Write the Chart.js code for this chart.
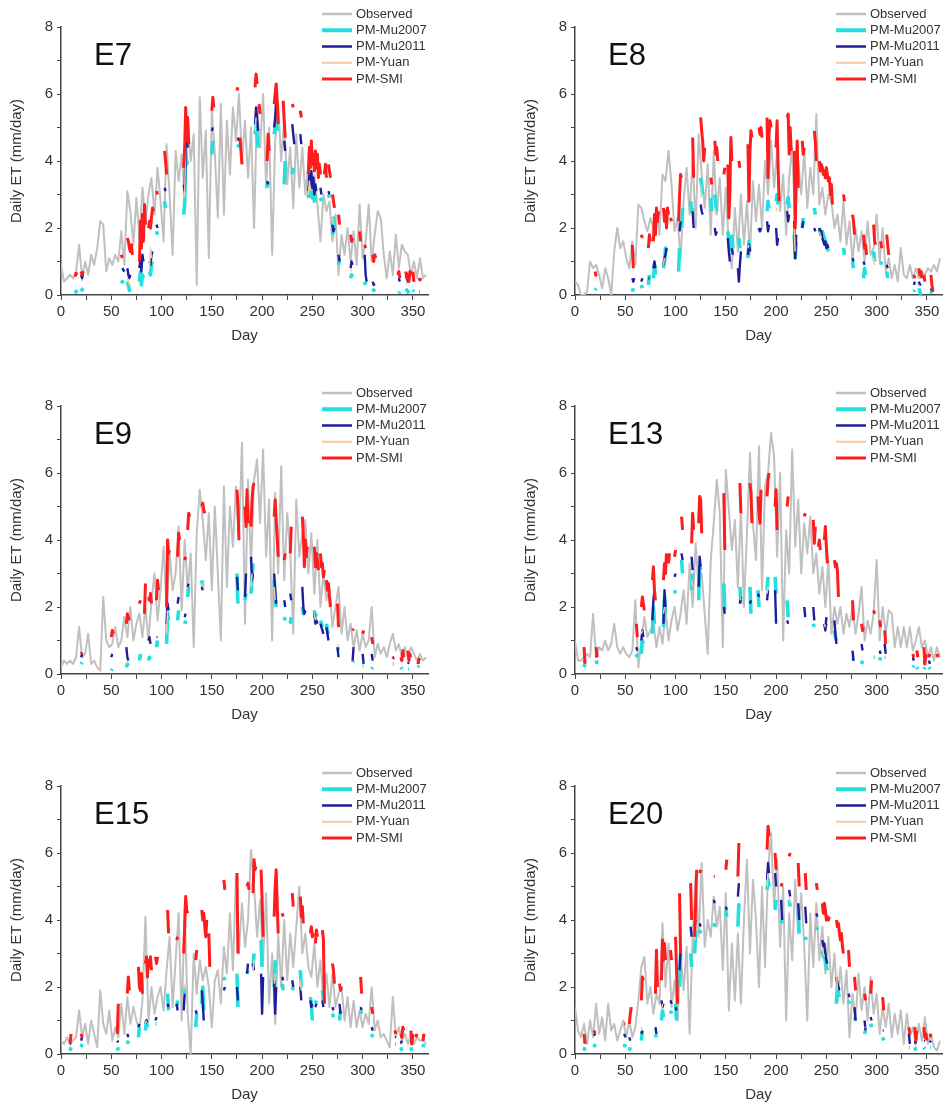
<!DOCTYPE html>
<html>
<head>
<meta charset="utf-8">
<script src="https://cdn.jsdelivr.net/npm/chart.js@4.4.1/dist/chart.umd.min.js"></script>
<style>
body{margin:0;background:#fff;width:946px;height:1108px;position:relative;overflow:hidden}
canvas{position:absolute}
</style>
</head>
<body>
<canvas id="c0" width="432" height="349" style="left:0;top:0"></canvas>
<canvas id="c1" width="432" height="349" style="left:514px;top:0"></canvas>
<canvas id="c2" width="432" height="349" style="left:0;top:379px"></canvas>
<canvas id="c3" width="432" height="349" style="left:514px;top:379px"></canvas>
<canvas id="c4" width="432" height="349" style="left:0;top:759px"></canvas>
<canvas id="c5" width="432" height="349" style="left:514px;top:759px"></canvas>
<script>
// observed ET sampled every 3rd day
var obsDays = [0,3,6,9,12,15,18,21,24,27,30,33,36,39,42,45,48,51,54,57,60,63,66,69,72,75,78,81,84,87,
  90,93,96,99,102,105,108,111,114,117,120,123,126,129,132,135,138,141,144,147,150,153,156,159,162,165,168,171,174,177,
  180,183,186,189,192,195,198,201,204,207,210,213,216,219,222,225,228,231,234,237,240,243,246,249,252,255,258,261,264,267,
  270,273,276,279,282,285,288,291,294,297,300,303,306,309,312,315,318,321,324,327,330,333,336,339,342,345,348,351,354,357,360,363];

var e7Obs = [0.9,0.4,0.5,0.6,0.5,0.7,1.5,0.5,1.0,0.6,
  1.2,0.9,1.4,2.2,2.1,0.7,1.1,0.9,1.2,1.0,
  1.9,0.9,3.1,2.5,1.5,2.9,1.7,3.2,2.2,3.0,
  3.5,2.4,3.8,2.8,1.6,4.5,3.0,1.2,4.3,3.4,
  4.2,3.0,5.3,4.0,4.8,0.3,5.9,3.5,4.9,1.1,
  5.5,4.2,2.3,5.7,2.4,5.2,3.6,5.6,4.6,6.0,
  4.0,5.2,3.5,5.0,2.0,5.6,4.4,6.0,3.2,5.0,
  1.2,4.6,5.7,4.0,5.2,3.3,4.4,2.6,4.8,3.2,
  4.4,3.0,3.9,2.9,3.6,2.7,1.6,3.0,2.5,2.8,
  1.6,2.4,0.6,1.8,1.2,2.0,1.0,1.9,0.9,2.7,
  1.1,1.6,2.7,1.0,1.8,2.5,2.3,1.2,0.5,1.3,
  0.6,1.8,0.8,1.5,1.3,1.2,0.6,1.0,0.5,1.1,
  0.5,0.6];
var e8Obs = [0.4,0.3,0.0,0.0,0.1,1.0,0.8,0.9,0.6,0.2,
  0.8,0.5,0.0,1.3,2.0,1.4,1.6,1.1,0.8,1.6,
  0.9,2.7,2.6,2.2,1.9,2.3,2.0,2.6,1.8,3.6,
  3.4,4.3,3.3,1.9,2.3,1.1,2.8,3.8,2.4,4.1,
  2.0,4.8,3.6,2.6,3.9,1.8,4.3,2.4,3.5,1.8,
  3.2,1.4,0.8,2.6,1.3,3.0,1.5,2.8,1.2,3.4,
  2.2,3.3,2.0,4.0,3.0,4.6,3.2,4.3,2.5,3.6,
  1.8,3.5,4.4,2.1,4.0,3.0,4.3,2.6,3.8,3.0,
  5.4,2.7,3.2,2.4,3.0,2.8,2.0,2.4,1.6,2.8,
  1.5,2.2,1.0,2.0,1.3,1.9,1.0,2.2,1.2,1.4,
  2.4,1.0,2.0,0.7,1.1,0.5,0.9,0.4,1.4,0.6,
  0.5,0.9,0.5,0.8,0.5,0.7,0.6,0.8,0.7,0.9,
  0.7,1.1];
var e9Obs = [0.2,0.4,0.3,0.4,0.3,0.5,1.4,0.5,0.6,1.2,
  0.3,0.4,0.2,0.1,2.3,1.0,0.8,0.9,1.4,0.8,
  1.0,1.7,1.1,2.0,1.0,1.5,1.8,1.1,2.0,1.0,
  2.2,3.0,1.6,2.5,3.8,1.9,3.6,2.5,3.0,4.4,
  1.9,4.0,2.5,3.6,0.8,4.2,5.5,4.6,3.4,4.8,
  2.5,5.0,3.0,1.0,5.6,2.6,5.0,3.8,5.6,4.0,
  6.9,1.5,5.8,3.2,5.8,6.4,4.5,6.7,3.5,5.2,
  1.0,5.4,3.0,6.2,2.8,4.8,3.6,1.2,5.2,3.5,
  4.2,4.6,3.0,4.2,2.4,4.0,2.0,3.0,2.2,2.6,
  1.4,2.0,2.6,1.2,2.0,1.0,1.5,0.8,1.3,0.7,
  1.2,0.8,1.0,2.0,0.5,0.9,0.6,0.8,0.5,0.9,
  1.2,0.7,0.9,0.5,0.8,0.5,0.8,0.6,0.4,0.6,
  0.4,0.5];
var e13Obs = [1.0,0.4,0.4,0.5,0.6,0.5,1.8,0.5,0.8,0.7,
  1.0,0.7,0.9,1.5,0.8,0.6,0.8,0.6,0.5,0.7,
  2.2,0.2,1.0,1.7,1.1,1.3,1.5,0.8,1.4,0.9,
  1.9,1.0,1.6,2.0,1.3,1.8,2.5,1.5,3.3,2.0,
  3.9,2.5,3.0,1.8,0.6,3.4,4.5,5.8,4.8,0.8,
  6.1,4.9,3.7,4.6,2.6,5.0,2.0,4.2,6.6,4.5,
  3.4,6.8,2.5,5.6,6.0,7.2,6.5,3.5,6.0,1.0,
  4.3,3.0,6.7,3.8,5.2,3.0,4.5,3.6,4.7,3.0,
  3.6,2.4,3.2,2.0,3.4,1.2,2.0,1.5,2.0,1.2,
  1.8,1.4,2.0,1.2,1.8,2.6,1.0,1.6,1.2,1.8,
  3.4,1.0,2.0,1.2,1.9,1.8,0.8,1.4,0.8,1.4,
  0.8,1.4,0.7,1.0,1.4,0.8,1.0,0.5,0.8,0.4,
  0.8,0.5];
var e15Obs = [0.4,0.3,0.5,0.3,0.4,0.5,1.3,0.5,0.9,0.3,
  1.0,0.6,0.2,1.9,0.9,0.6,1.3,0.4,0.8,0.5,
  1.5,0.6,1.7,0.9,1.4,1.0,0.7,1.6,4.1,1.0,
  2.0,1.2,1.7,2.0,1.3,2.5,3.5,1.4,2.8,4.2,
  1.0,4.4,1.2,0.0,3.0,1.8,2.8,2.2,2.6,2.0,
  0.8,2.2,2.5,1.5,3.2,2.4,4.2,2.5,5.3,3.0,
  4.5,3.2,4.0,6.1,5.0,3.5,4.6,2.8,4.8,1.5,
  3.0,0.9,3.6,2.0,4.0,2.2,3.6,2.6,3.8,5.0,
  3.0,3.6,2.6,2.3,3.3,2.0,2.8,1.6,2.4,1.4,
  2.4,1.4,1.8,2.0,1.0,1.7,0.8,1.6,0.8,1.3,
  0.8,1.2,0.9,2.0,0.7,1.0,0.5,0.6,0.4,0.2,
  1.7,0.5,0.8,0.4,0.6,0.3,0.6,0.3,0.5,0.4,
  0.4,0.3];
var e20Obs = [1.4,0.7,0.5,0.9,0.3,1.0,0.5,1.5,0.6,1.1,
  0.4,1.5,0.7,0.9,0.4,0.7,1.0,0.5,1.0,0.5,
  0.8,1.6,2.6,2.9,1.5,2.0,1.2,1.8,1.5,3.9,
  2.0,3.3,1.4,2.2,1.0,3.0,1.9,3.2,0.6,3.5,
  5.3,3.5,5.7,3.2,4.0,3.5,4.7,3.8,4.4,2.5,
  4.8,1.3,3.3,1.6,3.6,1.5,4.0,5.8,3.0,5.2,
  4.0,2.0,5.0,2.6,5.5,6.6,4.4,5.8,3.2,5.0,
  1.0,4.2,2.8,5.2,3.6,4.8,3.2,1.0,4.2,2.6,
  4.5,2.8,3.8,2.4,3.5,2.0,3.0,1.6,2.6,1.5,
  2.5,0.5,1.8,1.0,2.4,1.3,2.0,1.0,2.3,1.2,
  1.8,0.6,1.4,0.8,1.5,0.5,1.2,0.6,1.3,0.3,
  1.2,0.5,0.8,0.3,0.9,0.4,1.1,0.3,0.6,0.2,
  0.1,0.4];

// modelled ET: each run is [first day, value, value, ...] on consecutive days
var e7Mu2007 = [[14,0.05,0.1,0.15],[20,0.2,0.15,0.2],[60,0.35,0.4,0.35],[66,0.4,0.3,0.15,0.1],[78,0.4,0.7,0.3,0.6,0.5],
  [88,0.7,0.6,0.9,1.0],[95,1.9,1.8],[103,2.8,2.6],[122,2.4,2.7,4.3,3.9,4.0],[150,4.2,4.6],[176,4.4,4.5],
  [193,4.8,5.1,4.7,4.4],[205,3.2,3.4],[212,4.8,5.0,5.3,4.9],[222,3.3,4.0],[230,3.6,3.8],
  [246,2.9,3.2,3.0,3.3,2.9,3.1,2.8,3.0],[258,2.9,2.8],[266,3.0,2.9],[270,1.8,2.3,2.0],[276,0.9,1.1],
  [288,0.5,0.6,0.55],[302,0.4,0.3],[310,0.1,0.15,0.1],[336,0.05,0.1],[343,0.1,0.15,0.1,0.05],[350,0.15,0.1],[356,0.1,0.1]];
var e7Mu2011 = [[20,0.6,0.5,0.7],[61,0.8,0.75,0.7],[66,0.8,0.6,0.5,0.6],[78,0.8,1.1,0.7,1.2,1.0],[88,1.0,0.9,1.2,1.3],
  [95,2.1,2.0],[103,3.2,3.1],[122,3.3,3.1,4.2,4.8,4.4],[150,4.9,5.0],[176,4.7,4.6],[193,5.1,5.6,5.3,4.9],
  [205,3.4,3.3],[212,5.0,5.3,5.8,5.4],[222,4.6,4.3],[230,5.1,4.8,4.5],[238,4.8,4.5],
  [246,3.1,3.6,3.3,3.7,3.2,3.5,3.0,3.3,3.1],[258,3.2,3.0],[266,3.1,3.0],[270,2.1,1.9,2.0],[276,1.2,1.0],
  [288,0.8,1.0,0.9],[302,1.2,0.6,0.4],[310,0.4,0.3,0.35],[336,0.5,0.4],[343,0.6,0.5,0.4,0.5],[350,0.6,0.4],[356,0.5,0.45]];
var e7Yuan = [[20,0.4,0.45],[66,0.5,0.4,0.3],[88,0.8,1.4,1.1],[122,2.9,3.0,4.4],[193,4.9,5.3],[246,3.0,3.4,3.1],
  [270,2.3,2.1],[288,0.7,0.8],[343,0.3,0.35]];
var e7Smi = [[14,0.55,0.65,0.6],[20,0.7,0.6,0.7],[60,1.2,1.1],[66,1.7,1.6,1.4,1.3,1.5,1.2],[78,1.0,2.2,1.4,2.4,1.6,2.7,2.1],
  [87,2.0,2.2,2.0,2.3,2.6,2.5],[95,3.1,3.0],[103,4.3,4.0,3.6],[122,3.8,4.4,5.6,4.6,5.3,4.5],[150,5.5,5.9,5.6],
  [175,6.1,6.2],[178,4.7,4.3,3.9],[193,6.2,6.6,6.3],[197,5.7,5.4],[205,4.0,4.8,4.3],[212,5.7,6.0,6.3,5.8,5.1],
  [221,5.8,5.2,4.7],[230,5.7,5.6],[238,5.5,5.3],[246,3.6,4.4,3.8,4.6,3.9,4.2,3.7,4.3,3.8,4.2,3.5,3.9,3.6],
  [262,3.6,3.9,3.5],[266,3.9,3.7,3.5],[270,3.0,2.8,2.6],[276,2.4,2.1],[288,1.8,1.6,1.7],[297,1.9,1.6],[302,1.5,1.4],
  [310,1.2,1.0,1.2,1.1],[335,0.6,0.7,0.5],[343,0.7,0.5,0.6,0.4,0.7,0.6],[350,0.7,0.4],[356,0.5,0.45,0.5]];

var e8Mu2007 = [[20,0.15,0.2],[57,0.1,0.2],[66,0.3,0.2],[73,0.3,0.6],[78,0.5,0.9,0.6],[88,0.8,1.0,1.4,1.3],[103,0.7,1.4],
  [106,2.0,2.6],[115,2.8,2.5,2.6],[125,3.5,3.2,3.0],[135,2.9,2.5],[139,3.0,2.7,2.5],[152,1.9,1.6,1.3],[156,1.8,1.4],
  [163,1.7,1.4],[172,1.1,1.6,1.3],[183,2.0,1.9],[191,2.5,2.8,2.6],[200,2.8,3.0,2.7],[211,2.7,2.9,2.6],[218,1.8,1.1,1.6],
  [226,2.0,2.3],[238,2.6,2.4],[243,2.0,1.9,1.8,1.9,1.8,1.7,1.6,1.5,1.4,1.3],[267,1.4,1.2],[276,1.0,0.8],[287,0.5,0.8,0.6],
  [297,1.3,1.0],[304,0.9,1.0],[310,0.7,0.5],[337,0.1,0.15],[342,0.2,0.1,0.0],[354,0.1,0.05]];
var e8Mu2011 = [[57,0.5,0.4,0.5],[66,0.4,0.5],[73,0.5,0.5],[78,0.8,1.0,0.8],[88,0.9,1.1,1.2,1.4],[104,1.9,2.2],[117,2.5,2.0],
  [125,2.7,2.5,2.4],[139,2.0,1.8,1.9],[152,1.7,1.3,1.0],[156,1.4,1.2],[162,0.8,0.4,0.9,1.3],[172,1.2,1.5,1.3],
  [183,2.0,1.9,2.0],[191,2.2,1.9,2.1],[200,2.0,1.5,1.7],[211,2.5,2.2,2.4],[218,2.2,1.1,1.8],[226,2.0,2.2],[238,2.0,1.9],
  [243,2.0,1.8,1.9,1.7,1.6,1.5,1.6,1.4,1.5,1.4],[276,1.1,1.0],[287,1.0,0.9],[310,0.9,0.8],[337,0.3,0.4],
  [342,0.4,0.3,0.35],[354,0.2,0.1]];
var e8Yuan = [[88,0.9,1.1],[125,3.3,2.9],[139,2.6,2.4],[172,1.4,1.5],[200,2.5,2.6],[218,2.0,1.3],[243,1.9,1.8,1.7],
  [297,1.1,0.9],[342,0.3,0.25]];
var e8Smi = [[20,0.7,0.55],[57,1.5,0.8],[66,1.8,1.7],[73,1.4,1.8,1.6],[78,1.6,2.4,1.8,2.6,2.2,2.5],[88,2.6,2.2,2.5,2.0,2.6,2.4],
  [95,2.3,2.2],[103,2.2,3.0,3.6,3.5],[117,4.7,3.5],[125,5.3,4.9,4.6,4.0,4.4],[135,3.5,3.3],[139,4.6,4.2,4.4,4.0],
  [148,3.6,3.8],[152,3.9,2.3,3.0,4.7,4.0],[163,4.0,3.8],[172,4.5,2.8,4.3,4.9,4.7],[183,5.0,4.8,5.0,4.7],
  [191,5.3,3.5,4.8,5.2,5.0],[200,4.4,5.2,3.8,2.8],[211,5.3,5.4,4.2,5.0,4.3],[218,4.3,2.0,3.6,4.6,3.2],[226,4.6,4.2,4.4],
  [238,4.9,4.6,4.0],[243,4.0,3.7,3.9,3.8,3.6,3.7,3.5,3.8,3.6,3.4,3.5,3.0,3.3,2.7],[267,3.0,2.8],[276,2.4,2.2,1.8],
  [287,1.8,1.4,1.5,1.2],[297,2.1,1.6,1.5],[304,1.6,1.4],[310,1.8,1.5,1.2],[337,0.6,0.5],[342,0.8,0.6,0.7,0.5],
  [347,0.6,0.4],[354,0.6,0.3,0.1]];

var e9Mu2007 = [[20,0.3,0.35],[50,0.1,0.15],[65,0.2,0.3,0.25],[78,0.4,0.6],[87,0.4,0.5,0.45],[95,0.8,1.0],[105,0.9,1.8,1.6],
  [116,1.6,1.9],[123,1.5,1.6],[126,2.3,2.6],[140,2.8,2.6],[175,3.0,2.1],[183,2.2,2.4],[189,2.4,2.9,3.3],[212,2.8,2.3,2.0],
  [222,1.6,1.7],[228,1.5,1.7],[240,2.0,1.8,1.9],[252,1.9,1.7,1.8],[258,1.6,1.5,1.4],[264,1.5,1.3,1.2],[275,0.8,0.7],
  [290,0.35,0.4],[300,0.25,0.25],[309,0.15,0.2],[330,0.3,0.3],[338,0.2,0.15],[345,0.15,0.15],[355,0.2,0.25]];
var e9Mu2011 = [[20,0.5,0.6],[50,0.5,0.6],[65,0.8,0.5,0.4],[87,1.0,1.1,0.9],[95,1.1,1.1],[105,1.5,2.1,1.9],[116,2.1,2.3],
  [123,1.7,1.8],[126,2.6,2.7],[140,2.6,2.5],[175,2.9,2.5],[183,2.3,3.0],[189,3.5,2.8,3.0],[212,3.0,2.5,2.1],[222,2.2,2.0],
  [228,2.4,2.2],[240,2.6,2.0,1.8,1.9],[252,1.8,1.5,1.6,1.5],[258,1.5,1.4,1.3,1.2],[264,1.4,1.2,1.0],[275,0.8,0.5],
  [290,0.4,0.8],[300,0.6,0.3],[309,0.6,0.4],[330,0.5,0.5],[338,0.4,0.45],[345,0.3,0.35],[355,0.3,0.4]];
var e9Yuan = [[65,0.3,0.4],[105,1.2,1.9],[140,2.7,2.6],[189,2.6,3.0],[212,2.6,2.2],[252,1.8,1.6],[275,0.9,0.8],[338,0.3,0.3]];
var e9Smi = [[20,0.6,0.65],[50,1.1,1.3,1.2],[65,1.5,1.8,1.7,1.6],[78,2.1,2.2],[83,1.8,2.7],[87,2.3,2.2,2.4,2.1],[95,2.2,2.8,2.5],
  [105,2.0,4.0,3.6,3.7],[116,3.5,4.2,4.0],[123,3.4,3.5],[126,4.3,4.8,4.7],[140,5.0,5.1,4.9,4.8],[175,5.5,5.0,4.0],
  [183,5.0,4.4,5.5,4.5],[189,4.4,5.2,5.6,5.7],[212,4.7,5.2,4.6,4.1,3.5],[222,3.4,3.6],[228,3.6,4.4],
  [240,4.7,4.2,3.2,4.0,3.5,3.8],[252,3.8,3.2,3.6,3.4,3.1],[258,3.6,3.2,3.3,2.9,3.1],[264,2.8,2.5,2.7,2.3,2.0],
  [275,2.1,1.4],[290,1.3,1.35],[300,1.2,1.3],[309,1.1,0.9],[330,0.45,0.5],[338,0.5,0.4,0.7,0.5],[345,0.7,0.4,0.6,0.5],
  [355,0.3,0.45,0.4]];

var e13Mu2007 = [[9,0.2,0.3],[21,0.4,0.3],[61,0.6,0.5],[66,0.6,1.0,0.9],[77,1.2,2.0,1.5],[88,1.4,2.3,1.8],[99,2.5,2.4],
  [106,3.4,3.0],[116,2.5,3.0],[123,2.2,3.2,3.1],[148,2.7,1.9],[164,2.6,2.1],[174,2.6,1.8],[182,2.5,2.0],[191,2.5,2.9],
  [199,2.9,2.4],[211,2.2,1.7],[228,1.9,1.9],[237,1.5,1.4],[248,1.5,1.4,1.5],[258,1.3,1.1,1.0],[276,0.4,0.45],
  [285,0.3,0.4],[297,0.5,0.5],[303,0.4,0.5],[308,0.5,0.5],[336,0.2,0.25],[340,0.2,0.15],[347,0.15,0.2],[352,0.2,0.15]];
var e13Mu2011 = [[9,0.4,0.35],[21,0.5,0.6],[61,0.8,0.7],[66,1.0,1.3,1.1],[77,1.6,2.2,2.5],[88,1.5,2.5,2.0],[99,2.9,3.0],
  [106,3.6,3.4],[116,3.5,3.1],[123,2.6,3.5,3.2],[148,2.0,1.8],[164,2.1,2.3],[174,2.1,2.2],[182,2.4,2.3],[191,2.2,2.5],
  [199,2.5,1.5],[211,1.6,1.5],[228,2.0,1.7],[237,2.0,1.6],[248,1.5,1.3,1.7],[258,1.6,1.2,0.9],[276,0.7,0.4],
  [285,0.9,0.7],[303,0.7,0.6],[308,0.9,0.6],[336,0.5,0.4],[347,0.4,0.3],[352,0.4,0.3]];
var e13Yuan = [[66,1.2,1.3],[88,1.8,2.0],[116,2.8,2.6],[164,2.3,2.2],[191,2.4,2.6],[248,1.5,1.4],[285,0.5,0.5],[347,0.3,0.25]];
var e13Smi = [[9,0.8,0.3],[21,0.8,0.5],[61,1.5,1.1],[66,2.0,2.3,2.1,1.9],[77,2.8,3.2,2.5,2.2],[88,2.8,3.3,3.0,3.6],[93,3.3,3.6],
  [99,3.5,3.7],[106,4.7,4.3],[116,3.9,4.8,4.3],[123,4.5,5.3,5.2,4.2],[148,5.4,3.7],[164,5.7,4.8],[174,5.7,5.4,4.5],
  [182,5.3,4.8,4.5,5.5],[191,5.3,5.8,6.0],[199,5.0,5.5,4.3],[211,5.0,5.3],[228,4.7,4.8],[237,4.6,3.9,4.4],[242,3.8,4.0,3.7],
  [248,4.0,4.4,3.8,3.3],[258,3.4,3.2,3.3,3.1,2.3],[276,2.2,1.6],[285,1.5,1.3,1.4],[297,1.9,1.8],[303,1.6,1.4],[308,1.3,0.9],
  [336,0.6,0.5],[340,0.7,0.5],[347,0.8,0.3,0.6],[352,0.5,0.6],[360,0.6,0.5]];

var e15Mu2007 = [[9,0.1,0.2],[20,0.2,0.3],[56,0.2,0.1],[66,0.3,0.4],[77,0.5,0.8],[84,0.7,1.0,0.8],[94,0.9,0.9],[106,1.8,1.3],
  [115,1.4,1.6],[122,2.0,1.8],[134,0.8,1.2],[140,1.5,2.0,1.3],[162,2.3,2.2],[175,2.4,1.4],[185,2.4,2.5],[191,2.6,3.0],
  [199,3.4,2.6],[212,2.0,2.8],[220,2.1,1.9],[230,1.9,2.0],[238,2.5,2.0],[248,1.7,1.5,1.0],[253,1.5,1.6],[260,1.9,1.6],
  [270,1.2,1.1],[277,1.0,1.3],[298,1.2,1.3],[309,0.6,0.5],[332,0.3,0.3],[338,0.2,0.1],[348,0.2,0.1],[360,0.2,0.3]];
var e15Mu2011 = [[9,0.3,0.3],[20,0.4,0.5],[56,0.4,0.35],[66,0.6,0.5],[77,0.8,0.9],[84,0.9,1.0,0.95],[94,1.0,1.1],[106,1.5,1.4],
  [115,1.5,1.3],[122,1.3,1.8],[134,1.3,1.2],[140,1.9,1.5,1.0],[162,1.9,2.0],[175,2.0,1.6],[185,2.4,2.7],[191,2.7,2.5],
  [199,2.4,1.2,2.3],[212,2.2,1.2,2.0],[220,2.3,2.2],[230,2.2,2.0],[238,2.0,1.6],[248,1.6,1.4,1.5],[253,1.4,1.5],
  [260,1.6,1.4],[270,1.4,1.3],[277,1.5,1.2],[298,1.4,1.3],[309,0.8,0.7],[332,0.5,0.5],[338,0.3,0.4],[348,0.4,0.3],
  [360,0.4,0.6]];
var e15Yuan = [[84,0.9,1.0],[122,1.9,2.1],[191,2.5,2.8],[212,2.1,2.4],[238,2.2,1.9],[270,1.3,1.2],[298,1.3,1.3],[338,0.3,0.3]];
var e15Smi = [[9,0.3,0.6],[20,0.6,0.5],[56,0.6,1.5],[66,1.8,2.3,1.9],[77,2.6,2.0,1.9,2.4,1.8],[84,2.7,2.9,2.3,2.8,2.6,2.9,2.5],
  [94,2.9,2.7,2.9],[106,4.3,3.6],[115,3.4,3.5],[122,3.0,3.8,4.7,4.3,4.2],[134,2.8,3.1],[140,4.3,4.0,4.2,3.8,3.5,4.0],
  [147,3.6,2.6],[162,5.2,4.9],[175,5.4,3.0],[185,5.0,5.1,4.9],[191,4.8,5.8,5.5,5.6],[199,5.5,4.6,3.5],
  [212,4.1,5.0,5.5,4.5,3.6],[220,4.2,4.1],[230,4.8,4.4],[238,4.7,4.1,4.4,3.9],[248,3.6,3.8,3.5,3.6],[253,3.3,3.7,3.5],
  [260,3.7,3.4,1.5],[270,2.7,2.5,2.1],[277,2.1,1.9,2.0],[298,2.3,1.8],[309,1.4,1.2],[332,0.7,0.6],[338,0.6,0.5,0.8,0.7],
  [348,0.7,0.3,0.6],[353,0.5,0.6],[360,0.4,0.6]];

var e20Mu2007 = [[9,0.1,0.2],[19,0.2,0.3],[49,0.2,0.3],[54,0.1,0.2],[66,0.4,0.7],[80,0.6,0.5],[86,1.0,1.3,1.1],[95,1.3,1.2],
  [100,1.5,1.0],[104,2.0,3.0],[115,3.0,2.6],[119,3.0,3.7],[124,3.7,3.6],[138,3.8,3.9],[150,4.3,4.1],[162,3.8,4.5],
  [191,4.9,5.2,5.0],[199,4.3,4.6],[205,3.9,4.0],[213,4.6,4.4],[222,4.3,3.6],[229,3.4,3.5],[240,3.8,3.7],
  [246,3.1,2.9,3.0,2.8,2.6,2.5],[260,1.5,2.0,1.8,1.7],[272,1.6,1.5],[278,1.0,1.1],[288,0.6,0.7],[294,0.9,0.8],
  [306,0.5,0.4],[332,0.2,0.2],[338,0.2,0.1],[347,0.2,0.15],[353,0.2,0.2]];
var e20Mu2011 = [[9,0.4,0.35],[19,0.6,0.55],[49,0.6,0.5],[54,0.5,0.4],[66,0.6,0.7],[80,0.8,0.6],[86,1.6,1.4,1.5],[95,1.6,1.5],
  [100,1.4,1.3],[104,2.5,3.1],[115,3.8,3.5],[119,3.8,4.0],[124,3.9,3.8],[138,4.6,4.5],[150,4.4,4.3],[162,4.7,5.1],
  [191,5.2,5.7,5.4],[199,5.4,5.0],[205,4.6,4.0],[213,4.9,4.7],[222,4.5,4.0],[229,4.4,3.9],[240,4.2,4.1],
  [246,3.4,3.2,3.3,3.0,2.8,2.7],[260,2.3,2.1,2.0,1.9],[272,1.8,1.7],[278,1.4,1.0],[288,1.0,0.7],[294,1.1,1.0],
  [306,0.7,0.7],[332,0.6,0.3],[338,0.4,0.3],[347,0.4,0.4],[353,0.35,0.4]];
var e20Yuan = [[66,0.8,0.7],[86,1.3,1.5],[119,3.4,3.8],[191,5.0,5.4],[213,4.7,4.5],[246,3.2,3.0,2.9],[260,2.5,1.9],[288,0.8,0.8],
  [338,0.3,0.2]];
var e20Smi = [[9,0.6,0.3],[19,0.7,0.6],[49,0.9,0.9],[54,0.9,1.2,1.4],[66,1.6,2.3,2.2],[80,1.8,3.1,2.0],[86,2.2,3.4,2.8,3.3,2.8],
  [95,3.1,2.8],[100,3.5,2.5,1.5],[104,4.8,3.0],[115,5.1,4.0],[119,3.5,4.5,5.5],[124,5.4,5.5],[138,5.3,5.3],[150,5.5,5.8],
  [162,5.3,6.3],[191,6.1,6.8,6.5],[199,6.0,5.5],[205,5.0,5.1],[213,5.9,6.0],[222,5.7,5.0],[229,5.4,4.9],[240,5.1,4.9],
  [246,4.5,4.2,4.5,4.3,4.0,4.1,4.0,4.1],[260,4.0,3.8,3.9,3.6,3.4,3.6,3.2,3.0],[272,3.1,2.6],[278,2.3,1.9],[288,1.8,1.6],
  [294,1.8,2.2],[306,1.7,1.3],[332,0.8,0.6],[338,0.8,0.4,0.7],[347,0.8,0.5,0.6,0.4],[353,0.6,0.5]];

var seriesNames = ['Observed', 'PM-Mu2007', 'PM-Mu2011', 'PM-Yuan', 'PM-SMI'];
var seriesColors = ['#c0c0c0', '#22dfe0', '#1e1e9c', '#f9c8a0', '#ff1c1c'];
var lineWidths = [2, 3.6, 2.4, 1.5, 3];
var legendWidths = [2.5, 4, 2.5, 2, 3];

var panels = [
  {id: 'c0', name: 'E7', obs: e7Obs, runs: [e7Mu2007, e7Mu2011, e7Yuan, e7Smi]},
  {id: 'c1', name: 'E8', obs: e8Obs, runs: [e8Mu2007, e8Mu2011, e8Yuan, e8Smi]},
  {id: 'c2', name: 'E9', obs: e9Obs, runs: [e9Mu2007, e9Mu2011, e9Yuan, e9Smi]},
  {id: 'c3', name: 'E13', obs: e13Obs, runs: [e13Mu2007, e13Mu2011, e13Yuan, e13Smi]},
  {id: 'c4', name: 'E15', obs: e15Obs, runs: [e15Mu2007, e15Mu2011, e15Yuan, e15Smi]},
  {id: 'c5', name: 'E20', obs: e20Obs, runs: [e20Mu2007, e20Mu2011, e20Yuan, e20Smi]}
];

var FONT = '"Liberation Sans", Arial, Helvetica, sans-serif';
Chart.defaults.font.family = FONT;
Chart.defaults.color = '#333';

// turn runs into points, with a null after each run so the line breaks
function runPoints(runs) {
  var pts = [];
  runs.forEach(function(r) {
    for (var i = 1; i < r.length; i++) pts.push({x: r[0] + i - 1, y: r[i]});
    pts.push({x: r[0] + r.length - 1, y: null});
  });
  return pts;
}

var decor = {
  id: 'decor',
  afterDraw: function(chart, args, opts) {
    var ctx = chart.ctx;
    ctx.save();
    ctx.fillStyle = '#111';
    ctx.font = '31px ' + FONT;
    ctx.textBaseline = 'alphabetic';
    ctx.fillText(opts.name, chart.chartArea.left + 33, 65);
    ctx.font = '13px ' + FONT;
    ctx.textBaseline = 'middle';
    seriesNames.forEach(function(n, i) {
      var y = 14 + i * 16.25;
      ctx.strokeStyle = seriesColors[i];
      ctx.lineWidth = legendWidths[i];
      ctx.beginPath();
      ctx.moveTo(322, y);
      ctx.lineTo(352, y);
      ctx.stroke();
      ctx.fillStyle = '#333';
      ctx.fillText(n, 356, y);
    });
    ctx.restore();
  }
};

panels.forEach(function(p) {
  var datasets = [{
    label: seriesNames[0],
    data: obsDays.map(function(d, i) { return {x: d, y: p.obs[i]}; }),
    borderColor: seriesColors[0], borderWidth: lineWidths[0], order: 5
  }];
  p.runs.forEach(function(r, k) {
    datasets.push({
      label: seriesNames[k + 1],
      data: runPoints(r),
      borderColor: seriesColors[k + 1], borderWidth: lineWidths[k + 1],
      order: k === 0 ? 4 : k === 1 ? 3 : k === 2 ? 2 : 1,
      spanGaps: false
    });
  });
  datasets.forEach(function(d) {
    d.pointRadius = 0;
    d.tension = 0;
    d.fill = false;
    d.borderJoinStyle = 'round';
  });

  new Chart(document.getElementById(p.id), {
    type: 'line',
    data: {datasets: datasets},
    plugins: [decor],
    options: {
      responsive: false,
      animation: false,
      layout: {padding: {top: 27, right: 4, left: 0, bottom: 0}},
      plugins: {
        legend: {display: false},
        tooltip: {enabled: false},
        decor: {name: p.name}
      },
      scales: {
        x: {
          type: 'linear', min: 0, max: 365,
          ticks: {stepSize: 25, includeBounds: false, autoSkip: false, maxRotation: 0, padding: 3,
            font: {size: 15}, color: '#333',
            callback: function(v) { return v % 50 === 0 ? v : ''; }},
          grid: {drawOnChartArea: false, drawTicks: true, tickLength: 5, color: '#444'},
          border: {color: '#444', width: 1.5},
          title: {display: true, text: 'Day', font: {size: 15}, color: '#333', padding: {top: 4, bottom: 4}},
          afterFit: function(s) { s.height = 54; }
        },
        y: {
          min: 0, max: 8,
          ticks: {stepSize: 1, padding: 4, font: {size: 15}, color: '#333',
            callback: function(v) { return v % 2 === 0 ? v : ''; }},
          grid: {drawOnChartArea: false, drawTicks: true, tickLength: 4, color: '#444'},
          border: {color: '#444', width: 1.5},
          title: {display: true, text: 'Daily ET (mm/day)', font: {size: 15}, color: '#333', padding: {top: 8, bottom: 4}},
          afterFit: function(s) { s.width = 61; }
        }
      }
    }
  });
});
</script>
</body>
</html>
